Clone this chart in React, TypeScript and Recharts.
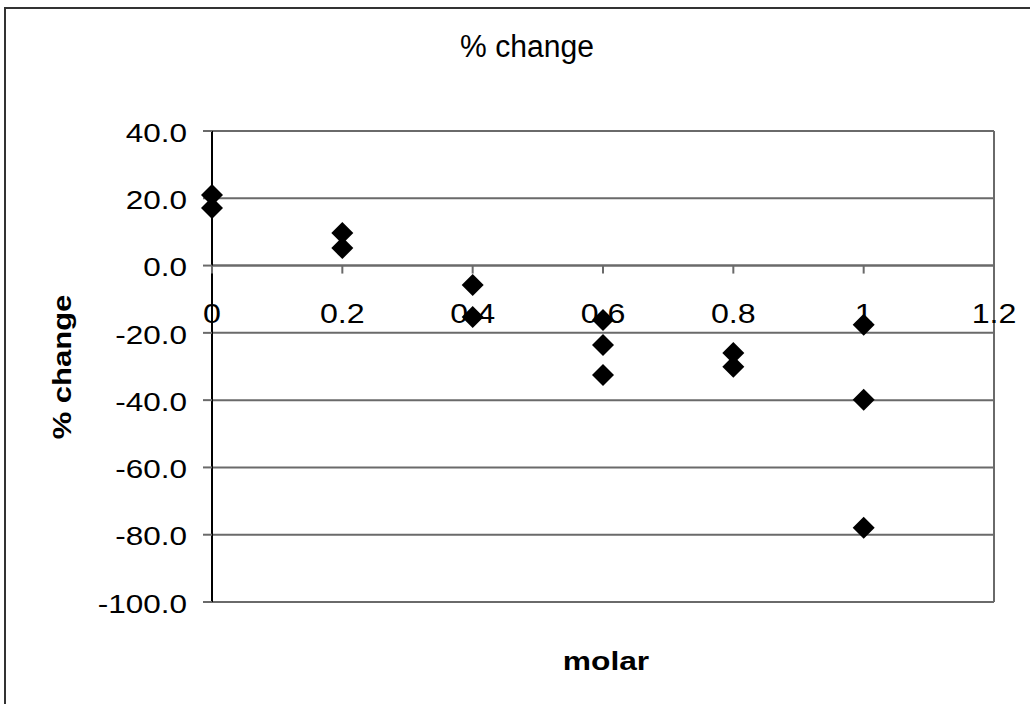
import React from 'react';
import { ScatterChart, Scatter, XAxis, YAxis, CartesianGrid, ReferenceLine } from 'recharts';

// values
const molar = [0, 0, 0.2, 0.2, 0.4, 0.4, 0.6, 0.6, 0.6, 0.8, 0.8, 1, 1, 1];
const pctChange = [21.0, 17.1, 9.7, 5.2, -5.8, -15.3, -16.2, -23.6, -32.5, -26.0, -30.1, -17.6, -39.9, -77.9];
const xTicks = [0, 0.2, 0.4, 0.6, 0.8, 1, 1.2];
const yTicks = [-100, -80, -60, -40, -20, 0, 20, 40];

const X_MIN = 0;
const X_MAX = 1.2;
const Y_MIN = -100;
const Y_MAX = 40;

const W = 1030;
const H = 704;
const PLOT_TOP = 131;
const PLOT_H = 471;
const FONT = "'Liberation Sans', Arial, sans-serif";
const GRID = '#6a6a6a';

// x axis crosses at y = 0
const AXIS_Y = PLOT_TOP + ((Y_MAX - 0) / (Y_MAX - Y_MIN)) * PLOT_H;

const points = molar.map((x, i) => ({ x, y: pctChange[i] }));

const XTick = (props: any) => {
  const { x, payload } = props;
  return (
    <g>
      <line x1={x} x2={x} y1={AXIS_Y} y2={AXIS_Y + 8} stroke={GRID} strokeWidth={2} />
      <g transform={`translate(${x},${AXIS_Y + 57})`}>
        <text transform="scale(1.15,1)" textAnchor="middle" fontSize={28} fontFamily={FONT} fill="#000">
          {String(payload.value)}
        </text>
      </g>
    </g>
  );
};

const YTick = (props: any) => {
  const { x, y, payload } = props;
  return (
    <g transform={`translate(${x},${y + 2})`}>
      <text transform="scale(1.26,1)" textAnchor="end" dy="0.35em" fontSize={25} fontFamily={FONT} fill="#000">
        {Number(payload.value).toFixed(1)}
      </text>
    </g>
  );
};

const Diamond = (props: any) => {
  const { cx, cy } = props;
  const r = 11;
  return <polygon points={`${cx},${cy - r} ${cx + r},${cy} ${cx},${cy + r} ${cx - r},${cy}`} fill="#000" />;
};

export default function App() {
  return (
    <div style={{ position: 'absolute', left: 0, top: 0, width: W, height: H, background: '#fff', overflow: 'hidden', fontFamily: FONT }}>
      <div style={{ position: 'absolute', left: 4, top: 7, width: W + 20, height: H + 20, border: '2px solid #333' }} />
      <ScatterChart width={W} height={H} margin={{ top: PLOT_TOP, right: 36, bottom: 72, left: 0 }}>
        <CartesianGrid horizontal vertical={false} stroke={GRID} strokeWidth={2} />
        <ReferenceLine x={X_MAX} stroke={GRID} strokeWidth={2} />
        <ReferenceLine y={0} stroke={GRID} strokeWidth={2} />
        <XAxis
          type="number"
          dataKey="x"
          domain={[X_MIN, X_MAX]}
          ticks={xTicks}
          interval={0}
          axisLine={false}
          tickLine={false}
          height={30}
          tick={<XTick />}
        />
        <YAxis
          type="number"
          dataKey="y"
          domain={[Y_MIN, Y_MAX]}
          ticks={yTicks}
          interval={0}
          width={212}
          axisLine={{ stroke: '#000', strokeWidth: 2 }}
          tickLine={{ stroke: GRID, strokeWidth: 2 }}
          tickSize={9}
          tickMargin={16}
          tick={<YTick />}
        />
        <Scatter data={points} shape={<Diamond />} isAnimationActive={false} />
      </ScatterChart>
      <div style={{ position: 'absolute', left: 527, top: 31, transform: 'translateX(-50%) scaleX(0.97)', fontSize: 31, lineHeight: 1, whiteSpace: 'nowrap' }}>
        % change
      </div>
      <div style={{ position: 'absolute', left: 606, top: 649, transform: 'translateX(-50%) scaleX(1.27)', fontSize: 25, fontWeight: 'bold', lineHeight: 1, whiteSpace: 'nowrap' }}>
        molar
      </div>
      <div style={{ position: 'absolute', left: 62, top: 367, transform: 'translate(-50%,-50%) rotate(-90deg) scaleX(1.24)', fontSize: 25, fontWeight: 'bold', lineHeight: 1, whiteSpace: 'nowrap' }}>
        % change
      </div>
    </div>
  );
}
